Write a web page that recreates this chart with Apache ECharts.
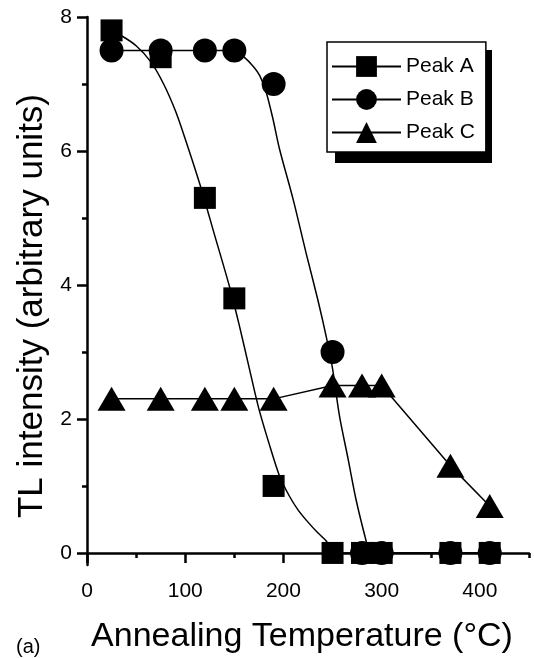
<!DOCTYPE html>
<html>
    <head>
        <meta charset="utf-8">
        <style>
            html, body { margin: 0; padding: 0; background: #fff; }
        </style>
    </head>
    <body>
        <div id="main" style="width:534px;height:658px"></div>
        <script src="https://cdn.jsdelivr.net/npm/echarts@6/dist/echarts.min.js"></script>
        <script type="text/javascript">
            // measured points (annealing temperature in °C)
            var temps = [25, 75, 120, 150, 190, 250, 280, 300, 370, 410]
            var peakA = [7.8, 7.4, 5.3, 3.8, 1.0, 0, 0, 0, 0, 0]
            var peakB = [7.5, 7.5, 7.5, 7.5, 7.0, 3.0, 0, 0, 0, 0]
            var peakC = [2.3, 2.3, 2.3, 2.3, 2.3, 2.5, 2.5, 2.5, 1.3, 0.7]

            // fitted curves
            var fitAx = [25, 35, 50, 65, 78, 90, 100, 115, 130, 145, 155, 165, 175, 185, 196, 206, 215, 225, 235, 244, 250, 280, 300, 370, 410]
            var fitAy = [7.78, 7.72, 7.57, 7.33, 7.0, 6.6, 6.18, 5.5, 4.74, 3.98, 3.4, 2.77, 2.15, 1.65, 1.15, 0.85, 0.64, 0.46, 0.3, 0.17, 0, 0, 0, 0, 0]
            var fitBx = [25, 75, 120, 150, 160, 170, 176, 182, 189, 196, 210, 223, 235, 244, 250, 257, 266, 274, 284, 288, 300, 370, 410]
            var fitBy = [7.5, 7.5, 7.5, 7.5, 7.4, 7.25, 7.12, 6.9, 6.5, 6.03, 5.27, 4.48, 3.78, 3.2, 2.75, 2.05, 1.39, 0.79, 0.19, 0, 0, 0, 0]

            var xMajor = [0, 100, 200, 300, 400]
            var xMinor = [50, 150, 250, 350, 450]
            var yMajor = [0, 2, 4, 6, 8]
            var yMinor = [1, 3, 5, 7]

            var font = 'Liberation Sans, Arial, sans-serif'

            function pairs(xs, ys) {
                return xs.map(function (x, i) { return [x, ys[i]] })
            }

            var option = {
                animation: false,
                backgroundColor: '#fff',
                grid: { left: 87, right: 5, top: 17, bottom: 93, outerBoundsMode: 'none' },
                legend: {
                    data: ['Peak A', 'Peak B', 'Peak C'],
                    orient: 'vertical',
                    left: 327,
                    top: 42,
                    z: 10,
                    itemWidth: 69,
                    itemHeight: 26,
                    itemGap: 12,
                    padding: [14, 11, 9, 4],
                    backgroundColor: '#fff',
                    borderColor: '#000',
                    borderWidth: 1.5,
                    selectedMode: false,
                    textStyle: { fontFamily: font, fontSize: 21, color: '#000' }
                },
                xAxis: [{
                    type: 'value',
                    min: 0,
                    max: 450,
                    name: 'Annealing Temperature (°C)',
                    nameLocation: 'middle',
                    nameGap: 55,
                    nameTextStyle: { fontFamily: font, fontSize: 34, color: '#000', padding: [0, 12, 0, 0] },
                    splitLine: { show: false },
                    axisLine: { lineStyle: { color: '#000', width: 2.5 } },
                    axisTick: { customValues: xMajor, length: 10, lineStyle: { width: 2.5 } },
                    axisLabel: { customValues: xMajor, margin: 16, fontFamily: font, fontSize: 21, color: '#000' }
                }, {
                    type: 'value',
                    min: 0,
                    max: 450,
                    position: 'bottom',
                    splitLine: { show: false },
                    axisLine: { show: false },
                    axisTick: { customValues: xMinor, length: 5, lineStyle: { color: '#000', width: 2.5 } },
                    axisLabel: { show: false }
                }],
                yAxis: [{
                    type: 'value',
                    min: -0.18,
                    max: 8,
                    name: 'TL intensity (arbitrary units)',
                    nameLocation: 'middle',
                    nameGap: 37,
                    nameTextStyle: { fontFamily: font, fontSize: 35, color: '#000', padding: [0, 30, 0, 0] },
                    splitLine: { show: false },
                    axisLine: { lineStyle: { color: '#000', width: 2.5 } },
                    axisTick: { customValues: yMajor, length: 10, lineStyle: { width: 2.5 } },
                    axisLabel: { customValues: yMajor, margin: 15, fontFamily: font, fontSize: 21, color: '#000' }
                }, {
                    type: 'value',
                    min: -0.18,
                    max: 8,
                    position: 'left',
                    splitLine: { show: false },
                    axisLine: { show: false },
                    axisTick: { customValues: yMinor, length: 5, lineStyle: { color: '#000', width: 2.5 } },
                    axisLabel: { show: false }
                }],
                graphic: [{
                    // drop shadow behind the legend box
                    type: 'rect',
                    z: 1,
                    shape: { x: 335, y: 50, width: 157, height: 113 },
                    style: { fill: '#000' }
                }, {
                    type: 'text',
                    left: 16,
                    top: 637,
                    style: { text: '(a)', fontFamily: font, fontSize: 20, fill: '#000' }
                }],
                series: [
                    {
                        name: 'Peak A', type: 'line', symbol: 'rect', showSymbol: false, smooth: 0.3,
                        itemStyle: { color: '#000' }, lineStyle: { color: '#000', width: 1.5 },
                        data: pairs(fitAx, fitAy), z: 2
                    },
                    {
                        name: 'Peak B', type: 'line', symbol: 'circle', showSymbol: false, smooth: 0.3,
                        itemStyle: { color: '#000' }, lineStyle: { color: '#000', width: 1.5 },
                        data: pairs(fitBx, fitBy), z: 2
                    },
                    {
                        name: 'Peak C', type: 'line', symbol: 'triangle', symbolSize: [28, 24],
                        itemStyle: { color: '#000' }, lineStyle: { color: '#000', width: 1.5 },
                        data: pairs(temps, peakC), z: 3
                    },
                    {
                        name: 'Peak B', type: 'scatter', symbol: 'circle', symbolSize: 24,
                        itemStyle: { color: '#000', opacity: 1 },
                        data: pairs(temps, peakB), z: 4
                    },
                    {
                        name: 'Peak A', type: 'scatter', symbol: 'rect', symbolSize: 22,
                        itemStyle: { color: '#000', opacity: 1 },
                        data: pairs(temps, peakA), z: 5
                    }
                ]
            }

            var mychart = echarts.init(document.getElementById('main'))
            mychart.setOption(option)
        </script>
    </body>
</html>
